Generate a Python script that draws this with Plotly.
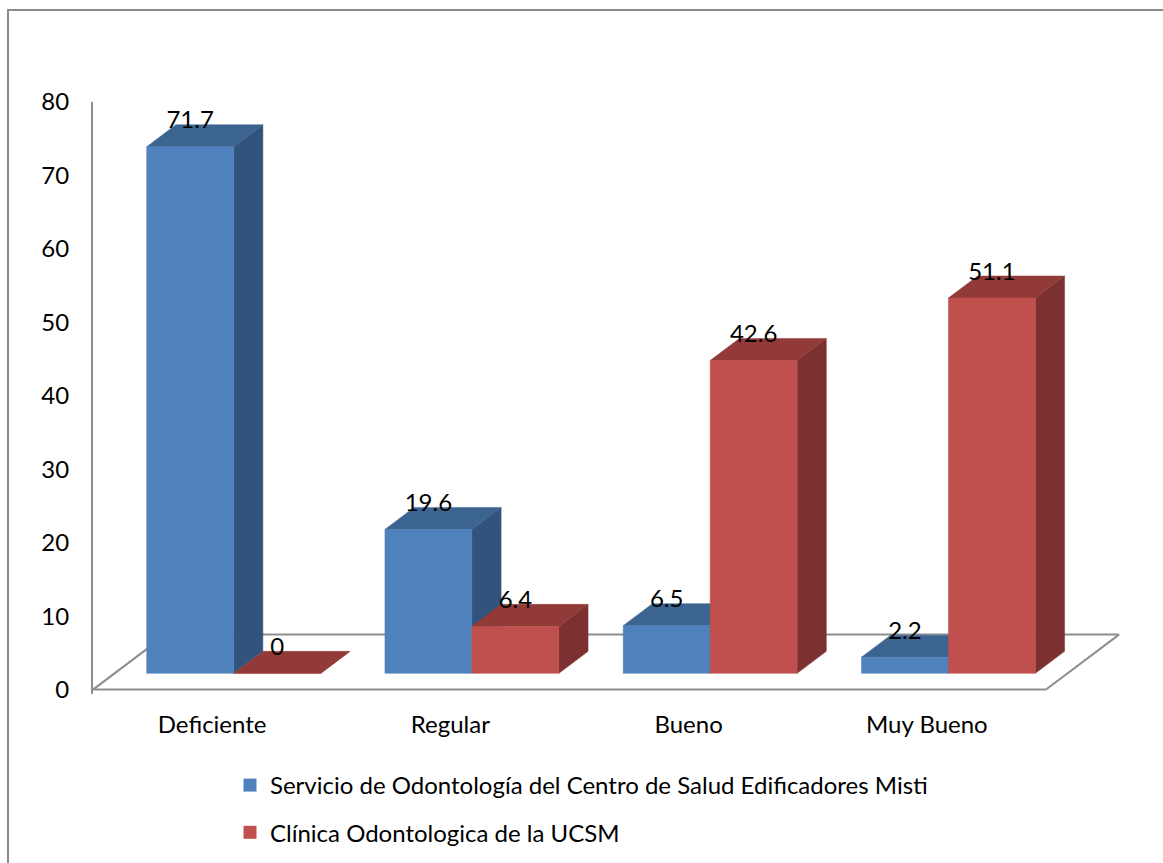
import plotly.graph_objects as go

# ---------------- data ----------------
categories = ["Deficiente", "Regular", "Bueno", "Muy Bueno"]
series_names = [
    "Servicio de Odontología del Centro de Salud Edificadores Misti",
    "Clínica Odontologica de la UCSM",
]
misti_values = [71.7, 19.6, 6.5, 2.2]
ucsm_values = [0, 6.4, 42.6, 51.1]
y_tick_values = [0, 10, 20, 30, 40, 50, 60, 70, 80]

# ---------------- styles / layout constants ----------------
W, H = 1163, 863
ML, MR, MT, MB = 93, 38, 102, 169
PW, PH = W - ML - MR, H - MT - MB
Y_MIN, Y_MAX = -0.6, 80
X_MIN = -0.5
PX_PER_CAT = 238.25
X_MAX = X_MIN + PW / PX_PER_CAT
PX_PER_VAL = PH / (Y_MAX - Y_MIN)

# oblique projection of depth (z from 0 = front to 1 = back of the floor)
DX = 73 / PX_PER_CAT
DY = 55 / PX_PER_VAL
Z0, Z1 = 0.295, 0.695          # depth span of the bars
BAR_W = 0.365                   # bar width in category units

FONT = "Lato"
FS = 24
colors = [
    dict(front="#4F81BD", top="#3C6491", side="#32537C"),
    dict(front="#C0504D", top="#913A38", side="#7C302F"),
]
AXIS_GRAY = "#8E8E8E"


def proj(x, y, z):
    return x + z * DX, y + z * DY


def poly(pts):
    xs, ys = zip(*[proj(*p) for p in pts])
    return list(xs) + [xs[0]], list(ys) + [ys[0]]


fig = go.Figure()

# floor
fx, fy = poly([(X_MIN, 0, 0), (len(categories) - 0.5, 0, 0),
               (len(categories) - 0.5, 0, 1), (X_MIN, 0, 1)])
fig.add_trace(go.Scatter(x=fx, y=fy, mode="lines", fill="toself",
                         fillcolor="white", line=dict(color=AXIS_GRAY, width=2),
                         hoverinfo="skip", showlegend=False))

series_values = [misti_values, ucsm_values]
lab_x, lab_y, lab_t = [], [], []
for i, cat in enumerate(categories):
    for s, vals in enumerate(series_values):
        v = vals[i]
        x0 = i - BAR_W if s == 0 else i
        x1 = x0 + BAR_W
        c = colors[s]
        faces = [
            ("side", [(x1, 0, Z0), (x1, 0, Z1), (x1, v, Z1), (x1, v, Z0)]),
            ("top", [(x0, v, Z0), (x1, v, Z0), (x1, v, Z1), (x0, v, Z1)]),
            ("front", [(x0, 0, Z0), (x1, 0, Z0), (x1, v, Z0), (x0, v, Z0)]),
        ]
        for name, pts in faces:
            px, py = poly(pts)
            fig.add_trace(go.Scatter(
                x=px, y=py, mode="lines", fill="toself", fillcolor=c[name],
                line=dict(color=c[name], width=0.5),
                name=series_names[s], hoverinfo="name+text",
                text=f"{cat}: {v}", showlegend=False))
        cx, cy = proj((x0 + x1) / 2, v, Z0)
        lab_x.append(cx)
        lab_y.append(cy + 24.5 / PX_PER_VAL)
        lab_t.append(f"{v:g}")

fig.add_trace(go.Scatter(x=lab_x, y=lab_y, text=lab_t, mode="text",
                         textposition="middle center",
                         textfont=dict(family=FONT, size=FS, color="black"),
                         hoverinfo="skip", showlegend=False, cliponaxis=False))

# legend entries
for s, nm in enumerate(series_names):
    fig.add_trace(go.Scatter(x=[None], y=[None], mode="markers", name=nm,
                             legendgroup=f"g{s}",
                             marker=dict(symbol="square", size=13,
                                         color=colors[s]["front"])))

# outer chart border
fig.add_shape(type="rect", xref="paper", yref="paper",
              x0=(8 - ML) / PW, x1=(W + 10 - ML) / PW,
              y0=(H - MB - (H + 10)) / PH, y1=(H - MB - 10) / PH,
              line=dict(color="#8A8A8A", width=2), fillcolor="rgba(0,0,0,0)",
              layer="below")

fig.update_layout(
    width=W, height=H, autosize=False,
    margin=dict(l=ML, r=MR, t=MT, b=MB, pad=0, autoexpand=False),
    plot_bgcolor="white", paper_bgcolor="white",
    font=dict(family=FONT, size=FS, color="black"),
    showlegend=True,
    legend=dict(x=(230 - ML) / PW, y=(H - MB - 763) / PH,
                xanchor="left", yanchor="top",
                font=dict(family=FONT, size=FS, color="black"),
                tracegroupgap=13, bgcolor="rgba(0,0,0,0)"),
    xaxis=dict(range=[X_MIN, X_MAX], tickvals=list(range(len(categories))),
               ticktext=categories, showgrid=False, zeroline=False,
               showline=False, ticks="", ticklabelstandoff=14,
               tickfont=dict(family=FONT, size=FS, color="black"),
               fixedrange=True),
    yaxis=dict(range=[Y_MIN, Y_MAX], tickvals=y_tick_values,
               showgrid=False, zeroline=False, showline=True,
               linecolor=AXIS_GRAY, linewidth=2, ticks="",
               ticklabelstandoff=17,
               tickfont=dict(family=FONT, size=FS, color="black"),
               fixedrange=True),
)

fig.write_html("out.html")
